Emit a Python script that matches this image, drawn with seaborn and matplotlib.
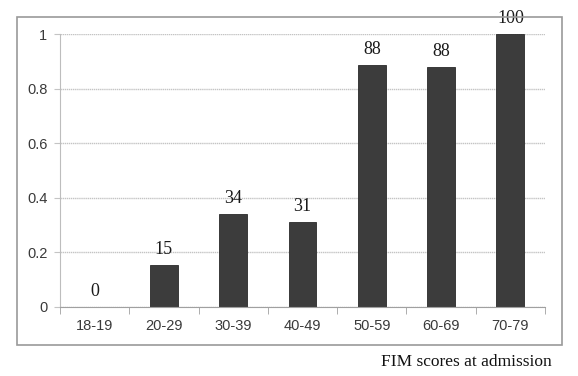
import numpy as np
import pandas as pd
import seaborn as sns
import matplotlib
matplotlib.use('Agg')
import matplotlib.pyplot as plt
from matplotlib.patches import Rectangle

# FIM score groups and proportion (bar heights) with the percent labels
groups = ['18-19', '20-29', '30-39', '40-49', '50-59', '60-69', '70-79']
proportion = [0.0, 0.154, 0.34, 0.31, 0.886, 0.878, 1.0]
percent_labels = ['0', '15', '34', '31', '88', '88', '100']

df = pd.DataFrame({'group': groups, 'value': proportion})

sns.set_style('white')
plt.rcParams['font.family'] = ['Liberation Sans', 'DejaVu Sans']

fig = plt.figure(figsize=(5.78, 3.76), dpi=100)
ax = fig.add_axes([60/578, 1 - 307/376, (545-60)/578, (307-34)/376])

# outer frame round the whole chart
fig.patches.append(Rectangle((17/578, 1 - 345/376), (562-17)/578, (345-17)/376,
                             transform=fig.transFigure, fill=False,
                             edgecolor='#9a9a9a', linewidth=1.2))

sns.barplot(data=df, x='group', y='value', color='#3c3c3c', width=0.4,
            saturation=1, edgecolor='#2a2a2a', linewidth=0.6, ax=ax)

for i, (v, lab) in enumerate(zip(proportion, percent_labels)):
    ax.annotate(lab, (i, v), xytext=(0, 5), textcoords='offset points',
                ha='center', va='bottom', fontsize=13,
                family='Liberation Serif', color='#1a1a1a',
                annotation_clip=False)

ax.set_ylim(0, 1)
ax.set_xlim(-0.5, len(groups) - 0.5)
ax.set_yticks([0, 0.2, 0.4, 0.6, 0.8, 1])
ax.set_yticklabels(['0', '0.2', '0.4', '0.6', '0.8', '1'])
ax.yaxis.grid(True, color='#c4c4c4', linewidth=1.0, linestyle=(0, (1, 0.5)))
ax.set_axisbelow(True)

ax.tick_params(axis='y', length=4, color='#c4c4c4', labelsize=10.5,
               labelcolor='#3a3a3a', pad=5, left=True)
ax.tick_params(axis='x', which='major', length=0, labelsize=10.5,
               labelcolor='#3a3a3a', pad=9)
ax.set_xticks(np.arange(-0.5, len(groups), 1), minor=True)
ax.tick_params(axis='x', which='minor', length=5, color='#a0a0a0',
               bottom=True, direction='out')

for s in ['top', 'right']:
    ax.spines[s].set_visible(False)
ax.spines['left'].set_color('#bdbdbd')
ax.spines['bottom'].set_color('#a0a0a0')
ax.set_xlabel('')
ax.set_ylabel('')

fig.text(552/578, 1 - 362/376, 'FIM scores at admission', ha='right',
         va='center', fontsize=12.5, family='Liberation Serif', color='#111111')

fig.savefig('out.png', dpi=100)
